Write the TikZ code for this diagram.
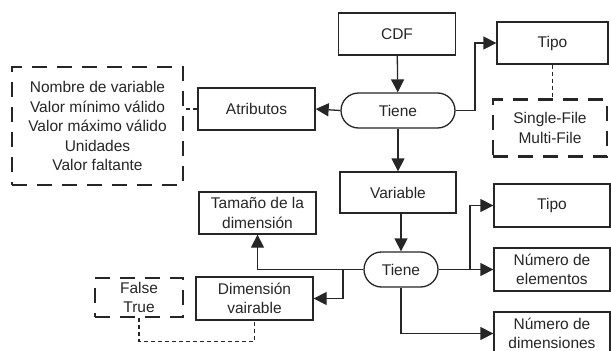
\documentclass[tikz,border=0pt]{standalone}
\usepackage{fontspec}
\setmainfont{Liberation Sans}
\usetikzlibrary{arrows.meta,shapes.misc}
\definecolor{ink}{HTML}{262626}
\tikzset{
  box/.style={draw=ink, line width=1.3pt, fill=white, inner sep=0pt, align=center,
    text=ink, font=\fontsize{15.5}{19.5}\selectfont},
  pill/.style={box, rounded rectangle},
  dbox/.style={box, line width=2.2pt, dash pattern=on 15pt off 10pt},
  arr/.style={draw=ink, line width=1.3pt, -{Triangle[length=13pt,width=13pt]}},
  link/.style={draw=ink, line width=1.1pt, dash pattern=on 4pt off 3pt},
}
\begin{document}
\begin{tikzpicture}[x=1pt,y=-1pt]
\useasboundingbox (0,0) rectangle (611,351);

% upper part
\node[box, minimum width=117pt, minimum height=42pt] (cdf) at (397,34) {CDF};
\node[pill, minimum width=114pt, minimum height=35pt] (tiene1) at (398,110.5) {Tiene};
\node[box, minimum width=111pt, minimum height=42pt] (tipo1) at (552.5,43) {Tipo};
\node[dbox, minimum width=114pt, minimum height=57pt] (files) at (550,128) {Single-File\\Multi-File};
\node[box, minimum width=117pt, minimum height=42pt] (atrib) at (256.5,109) {Atributos};
\node[dbox, minimum width=171pt, minimum height=118pt] (attrs) at (97.5,126)
  {Nombre de variable\\Valor mínimo válido\\Valor máximo válido\\Unidades\\Valor faltante};
\node[box, minimum width=116pt, minimum height=41pt] (variable) at (398,192.5) {Variable};

% lower part
\node[pill, minimum width=74pt, minimum height=35pt] (tiene2) at (401,269.5) {Tiene};
\node[box, minimum width=116pt, minimum height=43pt] (tipo2) at (552,205.5) {Tipo};
\node[box, minimum width=116pt, minimum height=43pt] (numelem) at (552,269.5) {Número de\\elementos};
\node[box, minimum width=116pt, minimum height=43pt] (numdim) at (552,333.5) {Número de\\dimensiones};
\node[box, minimum width=117pt, minimum height=42pt] (tamano) at (257.5,213) {Tamaño de la\\dimensión};
\node[box, minimum width=117pt, minimum height=43pt] (dimvar) at (254.5,298.5) {Dimensión\\vairable};
\node[dbox, minimum width=88pt, minimum height=39pt] (bool) at (139,297.5) {False\\True};

\coordinate (fork1) at (475,110.5);
\coordinate (fork2) at (470,269.5);
\coordinate (fork3) at (343,269.5);

% connectors
\draw[arr] (cdf) -- (tiene1);
\draw[arr] (tiene1.east) -- (fork1) |- (tipo1.west);
\draw[arr] (tiene1.west) -- (atrib.east);
\draw[arr] (tiene1.south) -- (tiene1.south |- variable.north);
\draw[link] (tipo1.south) -- (tipo1.south |- files.north);
\draw[link] (atrib.west) -- (atrib.west -| attrs.east);

\draw[arr] (variable.south -| tiene2.north) -- (tiene2.north);
\draw[arr] (tiene2.east) -- (numelem.west);
\draw[arr] (fork2) |- (tipo2.west);
\draw[arr] (tiene2.south) |- (numdim.west);
\draw[arr] (tiene2.west) -| (tamano.south);
\draw[arr] (fork3) |- (dimvar.east);
\draw[link] (bool.south) -- ++(0,23) -| (dimvar.south);
\end{tikzpicture}
\end{document}
